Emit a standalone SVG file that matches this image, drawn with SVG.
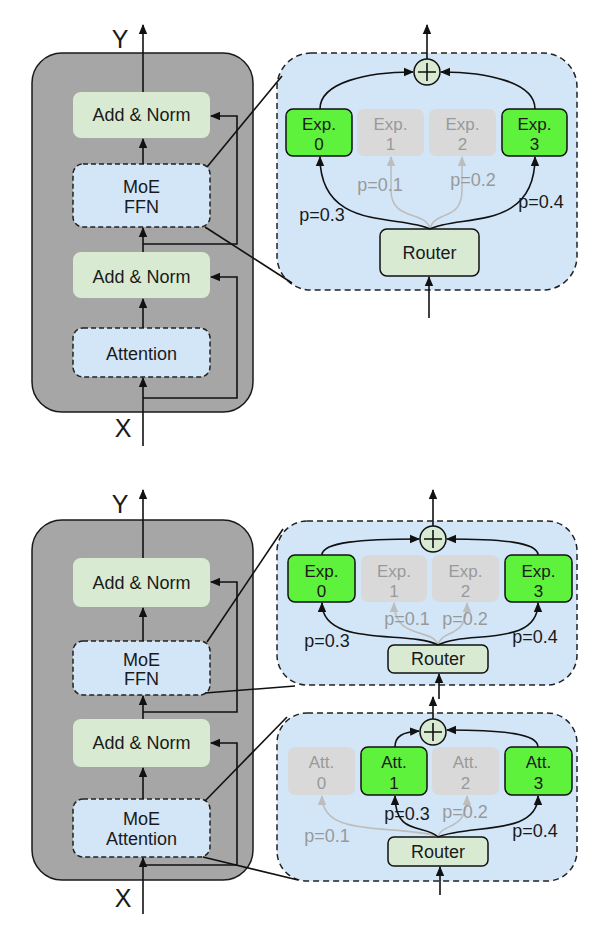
<svg xmlns="http://www.w3.org/2000/svg" width="594" height="932" viewBox="0 0 594 932">
<style>
.bg{fill:#ffffff}
.block{fill:#a6a6a6;stroke:#1a1a1a;stroke-width:1.5}
.an{fill:#d9ead3;stroke:none}
.moe{fill:#d3e6f8;stroke:#222;stroke-width:1.5;stroke-dasharray:5,3}
.panel{fill:#d3e6f8;stroke:#222;stroke-width:1.5;stroke-dasharray:6,4}
.on{fill:#5ef23d;stroke:#111;stroke-width:1.5}
.off{fill:#d9d9d9;stroke:none}
.router{fill:#d9ead3;stroke:#111;stroke-width:1.5}
.plus{fill:#d9ead3;stroke:#111;stroke-width:1.5}
.ln{fill:none;stroke:#111;stroke-width:1.6}
.arr{fill:none;stroke:#111;stroke-width:1.6;marker-end:url(#ah)}
.garr{fill:none;stroke:#bdbdbd;stroke-width:1.6;marker-end:url(#gah)}
text{font-family:"Liberation Sans",Arial,sans-serif;fill:#1a1a1a;text-anchor:middle}
.t18{font-size:18px}
.t17{font-size:17px}
.big{font-size:25px}
.gt{fill:#999999}
</style>
<defs>
<marker id="ah" markerUnits="userSpaceOnUse" markerWidth="10" markerHeight="10" viewBox="0 0 10 10" refX="9" refY="5" orient="auto"><path d="M0,0.8 L10,5 L0,9.2 z" fill="#111"/></marker>
<marker id="gah" markerUnits="userSpaceOnUse" markerWidth="10" markerHeight="10" viewBox="0 0 10 10" refX="9" refY="5" orient="auto"><path d="M0,0.8 L10,5 L0,9.2 z" fill="#bdbdbd"/></marker>
</defs>
<rect class="bg" x="0" y="0" width="594" height="932"/>

<!-- ===== TOP FIGURE ===== -->
<g id="block1"><rect class="block" x="32" y="53" width="221" height="359" rx="30"/></g>
<g id="panel1"><rect class="panel" x="277" y="53" width="300" height="237" rx="34"/></g>
<g id="top-an1"><rect class="an" x="73" y="92" width="137" height="46" rx="8"/><text class="t18" x="141.5" y="121">Add &amp; Norm</text></g>
<g id="top-moeffn"><rect class="moe" x="73" y="164" width="137" height="63" rx="10"/><text class="t18" x="141.5" y="193">MoE</text><text class="t18" x="141.5" y="213">FFN</text></g>
<g id="top-an2"><rect class="an" x="73" y="252" width="137" height="46" rx="8"/><text class="t18" x="141.5" y="283">Add &amp; Norm</text></g>
<g id="top-att"><rect class="moe" x="73" y="328" width="137" height="49" rx="10"/><text class="t18" x="141.5" y="360">Attention</text></g>
<g id="top-Y"><text class="big" x="120" y="48">Y</text></g>
<g id="top-X"><text class="big" x="123" y="437">X</text></g>

<g id="top-exp0"><rect class="on" x="286" y="109" width="66" height="47" rx="7"/><text class="t17" x="319" y="130">Exp.</text><text class="t17" x="319" y="150">0</text></g>
<g id="top-exp1"><rect class="off" x="357" y="109" width="67" height="47" rx="7"/><text class="t17 gt" x="390.5" y="130">Exp.</text><text class="t17 gt" x="390.5" y="150">1</text></g>
<g id="top-exp2"><rect class="off" x="429" y="109" width="67" height="47" rx="7"/><text class="t17 gt" x="462.5" y="130">Exp.</text><text class="t17 gt" x="462.5" y="150">2</text></g>
<g id="top-exp3"><rect class="on" x="502" y="109" width="65" height="47" rx="7"/><text class="t17" x="534.5" y="130">Exp.</text><text class="t17" x="534.5" y="150">3</text></g>
<g id="top-router"><rect class="router" x="380" y="229" width="99" height="47" rx="7"/><text class="t18" x="429.5" y="259">Router</text></g>
<g id="top-plus"><circle class="plus" cx="427" cy="72" r="13"/><path class="ln" d="M418,72 H436 M427,63 V81"/></g>

<!-- ===== BOTTOM FIGURE ===== -->
<g id="block2"><rect class="block" x="32" y="520" width="221" height="360" rx="30"/></g>
<g id="panel2"><rect class="panel" x="277" y="521" width="300" height="164" rx="30"/></g>
<g id="panel3"><rect class="panel" x="277" y="713" width="300" height="168" rx="30"/></g>
<g id="bot-an1"><rect class="an" x="73" y="558" width="137" height="49" rx="8"/><text class="t18" x="141.5" y="589">Add &amp; Norm</text></g>
<g id="bot-moeffn"><rect class="moe" x="73" y="641" width="137" height="54" rx="10"/><text class="t18" x="141.5" y="666">MoE</text><text class="t18" x="141.5" y="685">FFN</text></g>
<g id="bot-an2"><rect class="an" x="73" y="719" width="137" height="48" rx="8"/><text class="t18" x="141.5" y="749">Add &amp; Norm</text></g>
<g id="bot-moeatt"><rect class="moe" x="73" y="799" width="137" height="58" rx="10"/><text class="t18" x="141.5" y="825">MoE</text><text class="t18" x="141.5" y="845">Attention</text></g>
<g id="bot-Y"><text class="big" x="120" y="513">Y</text></g>
<g id="bot-X"><text class="big" x="123" y="907">X</text></g>

<g id="bot-exp0"><rect class="on" x="288" y="555" width="67" height="47" rx="7"/><text class="t17" x="321.5" y="577">Exp.</text><text class="t17" x="321.5" y="597">0</text></g>
<g id="bot-exp1"><rect class="off" x="361" y="555" width="66" height="47" rx="7"/><text class="t17 gt" x="394" y="577">Exp.</text><text class="t17 gt" x="394" y="597">1</text></g>
<g id="bot-exp2"><rect class="off" x="432" y="555" width="67" height="47" rx="7"/><text class="t17 gt" x="465.5" y="577">Exp.</text><text class="t17 gt" x="465.5" y="597">2</text></g>
<g id="bot-exp3"><rect class="on" x="505" y="555" width="67" height="47" rx="7"/><text class="t17" x="538.5" y="577">Exp.</text><text class="t17" x="538.5" y="597">3</text></g>
<g id="bot-router1"><rect class="router" x="388" y="645" width="100" height="28" rx="6"/><text class="t18" x="438" y="665">Router</text></g>
<g id="bot-plus1"><circle class="plus" cx="433" cy="539" r="13"/><path class="ln" d="M424,539 H442 M433,530 V548"/></g>

<g id="bot-att0"><rect class="off" x="288" y="747" width="67" height="48" rx="7"/><text class="t17 gt" x="321.5" y="768">Att.</text><text class="t17 gt" x="321.5" y="789">0</text></g>
<g id="bot-att1"><rect class="on" x="361" y="747" width="66" height="48" rx="7"/><text class="t17" x="394" y="768">Att.</text><text class="t17" x="394" y="789">1</text></g>
<g id="bot-att2"><rect class="off" x="432" y="747" width="67" height="48" rx="7"/><text class="t17 gt" x="465.5" y="768">Att.</text><text class="t17 gt" x="465.5" y="789">2</text></g>
<g id="bot-att3"><rect class="on" x="505" y="747" width="67" height="48" rx="7"/><text class="t17" x="538.5" y="768">Att.</text><text class="t17" x="538.5" y="789">3</text></g>
<g id="bot-router2"><rect class="router" x="388" y="837" width="100" height="29" rx="6"/><text class="t18" x="438" y="858">Router</text></g>
<g id="bot-plus2"><circle class="plus" cx="433" cy="732" r="13"/><path class="ln" d="M424,732 H442 M433,723 V741"/></g>

<g id="connectors">
<!-- top block -->
<path class="arr" d="M143,92 V25"/>
<path class="arr" d="M143,164 V139"/>
<path class="arr" d="M143,252 V228"/>
<path class="arr" d="M143,328 V299"/>
<path class="arr" d="M143,446 V378"/>
<path class="arr" d="M143,244 H237 V116 H211"/>
<path class="arr" d="M143,398 H237 V277 H211"/>
<path class="ln" d="M207,167 L282,76"/>
<path class="ln" d="M205,227 L292,283"/>
<!-- top panel -->
<path class="arr" d="M427,59 V25"/>
<path class="arr" d="M320,109 C320,82 368,72 413,72"/>
<path class="arr" d="M535,109 C535,82 486,72 441,72"/>
<path class="arr" d="M429,318 V277"/>
<path class="garr" d="M430,229 C426,210 391,222 391,190 L391,157"/>
<path class="garr" d="M430,229 C434,210 462,222 462,190 L462,157"/>
<path class="arr" d="M430,229 C400,214 320,232 320,157"/>
<path class="arr" d="M430,229 C460,214 535,232 535,157"/>
<text class="t18" x="322" y="221">p=0.3</text>
<text class="t18" x="541" y="208">p=0.4</text>
<text class="t18 gt" x="380" y="191">p=0.1</text>
<text class="t18 gt" x="473" y="186">p=0.2</text>

<!-- bottom block -->
<path class="arr" d="M143,558 V490"/>
<path class="arr" d="M143,641 V608"/>
<path class="arr" d="M143,719 V696"/>
<path class="arr" d="M143,799 V768"/>
<path class="arr" d="M143,914 V858"/>
<path class="arr" d="M143,712 H237 V582 H211"/>
<path class="arr" d="M143,865 H237 V743 H211"/>
<path class="ln" d="M207,642 L283,529"/>
<path class="ln" d="M205,693 L295,686"/>
<path class="ln" d="M205,801 L287,717"/>
<path class="ln" d="M203,857 L298,880"/>
<!-- bottom upper panel -->
<path class="arr" d="M433,526 V490"/>
<path class="arr" d="M322,555 C322,542 362,539 419,539"/>
<path class="arr" d="M538,555 C538,542 500,539 447,539"/>
<path class="garr" d="M438,645 C434,628 394,640 394,603"/>
<path class="garr" d="M438,645 C442,628 467,640 467,603"/>
<path class="arr" d="M438,645 C410,630 322,648 322,603"/>
<path class="arr" d="M438,645 C466,630 538,648 538,603"/>
<text class="t18" x="327" y="647">p=0.3</text>
<text class="t18" x="535" y="643">p=0.4</text>
<text class="t18 gt" x="407" y="625">p=0.1</text>
<text class="t18 gt" x="465" y="625">p=0.2</text>
<!-- between panels -->
<path class="arr" d="M439,699 V674"/>
<path class="arr" d="M433,719 V697"/>
<!-- bottom lower panel -->
<path class="arr" d="M395,747 C395,736 403,732 419,731"/>
<path class="arr" d="M538,747 C538,734 505,730 447,730"/>
<path class="arr" d="M440,895 V867"/>
<path class="garr" d="M438,836 C390,824 322,838 322,796"/>
<path class="garr" d="M438,837 C442,822 467,832 467,796"/>
<path class="arr" d="M438,837 C424,824 395,836 395,796"/>
<path class="arr" d="M438,837 C470,824 538,836 538,796"/>
<text class="t18" x="407" y="820">p=0.3</text>
<text class="t18" x="535" y="837">p=0.4</text>
<text class="t18 gt" x="327" y="842">p=0.1</text>
<text class="t18 gt" x="465" y="818">p=0.2</text>
</g>
</svg>
